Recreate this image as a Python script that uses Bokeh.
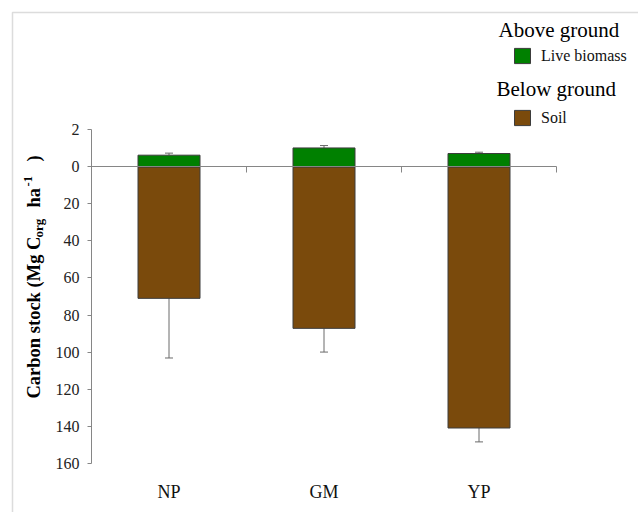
from bokeh.plotting import figure
from bokeh.models import (Range1d, FixedTicker, LinearAxis, Whisker, TeeHead,
                          Label, Legend, LegendItem, BoxAnnotation, ColumnDataSource)
from bokeh.embed import file_html
from bokeh.resources import INLINE
import math

# Carbon stock by site (Mg C_org / ha)
sites = ["NP", "GM", "YP"]
live_biomass = [6.3, 10.2, 7.2]      # above ground
live_biomass_err = [1.1, 1.3, 0.7]
soil = [71.0, 87.2, 141.0]           # below ground
soil_err = [32.2, 12.8, 7.5]
y_ticks = [-20, 0, 20, 40, 60, 80, 100, 120, 140, 160]

SERIF = "Liberation Serif"
AXIS_GREY = "#868686"

pos = [i + 0.5 for i in range(len(sites))]
y_lo, y_hi = -20, 160

# Canvas geometry: the plotting frame fills the whole canvas and the axes sit
# at fixed data locations, so annotations can be placed anywhere on the page.
W, H = 638, 512
PX_LEFT, PX_RIGHT = 91, 556        # x pixels of the category span
PX_TOP, PX_BOTTOM = 129.3, 462.7   # y pixels of the value span
xs = (PX_RIGHT - PX_LEFT) / len(sites)
ys = (PX_BOTTOM - PX_TOP) / (y_hi - y_lo)
x_range = Range1d(-PX_LEFT / xs, len(sites) + (W - PX_RIGHT) / xs)
y_range = Range1d(y_hi + (H - PX_BOTTOM) / ys, y_lo - PX_TOP / ys)

p = figure(width=W, height=H, output_backend="svg", toolbar_location=None,
           x_range=x_range, y_range=y_range,
           min_border_left=0, min_border_right=0, min_border_top=0, min_border_bottom=0,
           x_axis_location=None, y_axis_location=None)
p.grid.visible = False
p.outline_line_color = None
p.background_fill_color = "white"
p.border_fill_color = "white"

# above-ground stock is drawn upward from zero, below-ground downward
src = ColumnDataSource(dict(
    x=pos,
    live_top=[-v for v in live_biomass],
    live_err_top=[-(v + e) for v, e in zip(live_biomass, live_biomass_err)],
    soil=soil,
    soil_err_end=[v + e for v, e in zip(soil, soil_err)],
))

soil_r = p.vbar(x="x", top="soil", bottom=0, width=0.4, source=src,
                fill_color="#7a4a0c", line_color="#3c3c3c", line_width=1)
live_r = p.vbar(x="x", top="live_top", bottom=0, width=0.4, source=src,
                fill_color="#008000", line_color="#3c3c3c", line_width=1)

p.add_layout(Whisker(base="x", lower="soil", upper="soil_err_end", source=src,
                     line_color="#6a6a6a", line_width=1,
                     lower_head=None,
                     upper_head=TeeHead(size=8, line_color="#6a6a6a", line_width=1)))
p.add_layout(Whisker(base="x", lower="live_err_top", upper="live_top", source=src,
                     line_color="#6a6a6a", line_width=1,
                     upper_head=None,
                     lower_head=TeeHead(size=8, line_color="#6a6a6a", line_width=1)))

# y axis
yax = LinearAxis(fixed_location=0, bounds=(y_lo, y_hi),
                 ticker=FixedTicker(ticks=y_ticks, minor_ticks=[]),
                 major_label_overrides={t: ("2" if t == -20 else str(t)) for t in y_ticks},
                 axis_line_color=AXIS_GREY, major_tick_line_color=AXIS_GREY,
                 major_tick_out=4, major_tick_in=0, minor_tick_out=0, minor_tick_in=0,
                 major_label_standoff=8,
                 major_label_text_font=SERIF, major_label_text_font_size="16px",
                 major_label_text_color="#222222")
p.add_layout(yax, "left")

# category labels under the plot
xax = LinearAxis(fixed_location=y_hi, bounds=(0, len(sites)),
                 ticker=FixedTicker(ticks=pos, minor_ticks=[]),
                 major_label_overrides={x: s for x, s in zip(pos, sites)},
                 axis_line_color=None, major_tick_line_color=None,
                 major_tick_out=0, major_tick_in=0, minor_tick_out=0, minor_tick_in=0,
                 major_label_standoff=19,
                 major_label_text_font=SERIF, major_label_text_font_size="18px",
                 major_label_text_color="#111111")
p.add_layout(xax, "below")

# zero line with tick marks at category boundaries
zax = LinearAxis(fixed_location=0, bounds=(0, len(sites)),
                 ticker=FixedTicker(ticks=list(range(1, len(sites) + 1)), minor_ticks=[]),
                 axis_line_color=AXIS_GREY, major_tick_line_color=AXIS_GREY,
                 major_tick_in=6, major_tick_out=0, minor_tick_out=0, minor_tick_in=0,
                 major_label_text_color=None)
p.add_layout(zax, "above")

# outer frame (left and top edges)
p.add_layout(BoxAnnotation(left=12, right=W + 50, top=H - 12, bottom=-50,
                           left_units="screen", right_units="screen",
                           top_units="screen", bottom_units="screen",
                           fill_alpha=0, line_color="#8a8a8a", line_width=1.5))

# y axis title, rotated, with subscript and superscript
title_x = 33
pieces = [  # text, canvas y where it starts, size, x shift
    ("Carbon stock (Mg C", 398, "18.5px", 0),
    ("org", 237, "13px", 5),
    ("ha", 207, "18.5px", 0),
    ("-1", 186, "12.5px", -6),
    (")", 161, "18.5px", 0),
]
for txt, cy, size, dx in pieces:
    p.add_layout(Label(x=title_x + dx, y=H - cy, x_units="screen", y_units="screen",
                       text=txt, angle=math.pi / 2, text_align="left", text_baseline="middle",
                       text_font=SERIF, text_font_style="bold", text_font_size=size,
                       text_color="#000000"))

# legend headings
for txt, cx, cy in [("Above ground", 498, 29), ("Below ground", 496, 88)]:
    p.add_layout(Label(x=cx, y=H - cy, x_units="screen", y_units="screen",
                       text=txt, text_align="left", text_baseline="middle",
                       text_font=SERIF, text_font_size="21px", text_color="#000000"))

# legend entries
for r, name, bottom in [(live_r, "Live biomass", 65), (soil_r, "Soil", 127)]:
    leg = Legend(items=[LegendItem(label=name, renderers=[r])],
                 location=(512, H - bottom),
                 glyph_width=20, glyph_height=19, label_standoff=9,
                 padding=0, margin=0, spacing=0,
                 border_line_color=None, background_fill_alpha=0,
                 label_text_font=SERIF, label_text_font_size="16px",
                 label_text_color="#111111", label_text_baseline="middle")
    p.add_layout(leg, "center")

open("out.html", "w").write(file_html(p, INLINE))
